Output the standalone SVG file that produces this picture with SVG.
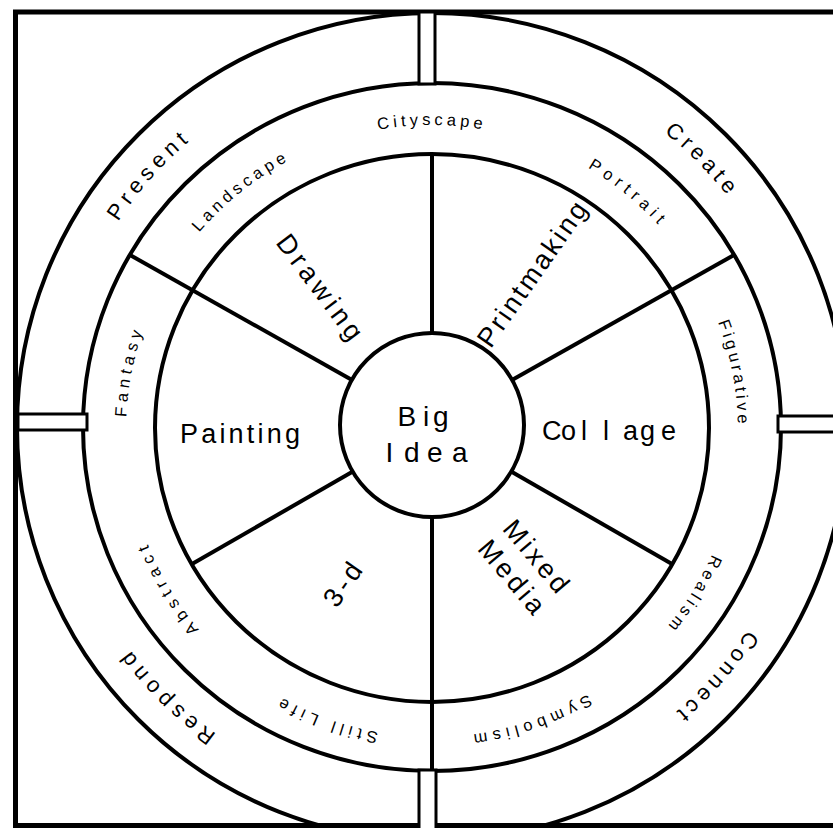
<svg xmlns="http://www.w3.org/2000/svg" xmlns:xlink="http://www.w3.org/1999/xlink" width="833" height="828" viewBox="0 0 833 828">
<style>
.ring{fill:none;stroke:#000;stroke-width:4}
.spoke{stroke:#000;stroke-width:4;stroke-linecap:butt}
.tab{fill:#fff;stroke:#000;stroke-width:3}
text{font-family:"Liberation Sans",Arial,sans-serif;fill:#000}
.mid{font-size:16.5px}
.out{font-size:22px}
.big{font-size:27px}
</style>
<defs>
<path id="midPath" d="M 432,737 A 306 306 0 1 1 432,125 A 306 306 0 1 1 432,737"/>
<path id="outPath" d="M 432,802 A 375 375 0 1 1 432,52 A 375 375 0 1 1 432,802"/>
</defs>
<rect width="833" height="828" fill="#fff"/>
<g id="frame">
<rect x="15.5" y="12" width="830" height="813.5" fill="none" stroke="#000" stroke-width="5"/>
</g>
<g id="rings">
<ellipse class="ring" cx="432" cy="427" rx="415" ry="414"/>
<ellipse class="ring" cx="432" cy="427" rx="349" ry="344"/>
<ellipse class="ring" cx="432" cy="428" rx="277" ry="274"/>
</g>
<g id="connectors">
<line class="spoke" x1="432" y1="333" x2="432" y2="154"/>
<line class="spoke" x1="432" y1="517" x2="432" y2="771"/>
<line class="spoke" x1="352" y1="380" x2="130" y2="255"/>
<line class="spoke" x1="512" y1="380" x2="734" y2="255"/>
<line class="spoke" x1="352" y1="472" x2="192" y2="564"/>
<line class="spoke" x1="512" y1="472" x2="672" y2="564"/>
</g>
<g id="tabs">
<rect class="tab" x="419" y="12" width="16" height="72"/>
<rect class="tab" x="419" y="770" width="17" height="60"/>
<rect class="tab" x="18" y="414" width="69" height="16"/>
<rect class="tab" x="778" y="416" width="60" height="16"/>
</g>
<g id="big-idea">
<circle cx="432" cy="425" r="92" fill="#fff" stroke="#000" stroke-width="4"/>
<text font-size="28" x="397.5 423 433" y="426">Big</text>
<text font-size="28" x="385.5 404 427 452" y="462">Idea</text>
</g>
<g id="drawing"><text class="big" text-anchor="middle" letter-spacing="4.3" transform="translate(321,289) rotate(53)" y="9">Drawing</text></g>
<g id="printmaking"><text class="big" text-anchor="middle" letter-spacing="2.8" transform="translate(533,273) rotate(-55)" y="9">Printmaking</text></g>
<g id="collage"><text class="big" x="542 561 581 603 623 640 661" y="440">Collage</text></g>
<g id="mixed-media"><g transform="translate(525,568) rotate(50)"><text class="big" text-anchor="middle" letter-spacing="3.5" y="-7">Mixed</text><text class="big" text-anchor="middle" letter-spacing="3.5" y="25">Media</text></g></g>
<g id="three-d"><text class="big" text-anchor="middle" letter-spacing="4" transform="translate(344,583) rotate(-55)" y="9">3-d</text></g>
<g id="painting"><text class="big" text-anchor="middle" letter-spacing="3.2" x="241.6" y="443">Painting</text></g>
<g id="middle-labels">
<text class="mid" text-anchor="middle" letter-spacing="5"><textPath xlink:href="#midPath" startOffset="5.6%">Still Life</textPath></text>
<text class="mid" text-anchor="middle" letter-spacing="5.6"><textPath xlink:href="#midPath" startOffset="16.5%">Abstract</textPath></text>
<text class="mid" text-anchor="middle" letter-spacing="4.7"><textPath xlink:href="#midPath" startOffset="28.1%">Fantasy</textPath></text>
<text class="mid" text-anchor="middle" letter-spacing="4.1"><textPath xlink:href="#midPath" startOffset="39.3%">Landscape</textPath></text>
<text class="mid" text-anchor="middle" letter-spacing="4"><textPath xlink:href="#midPath" startOffset="50%">Cityscape</textPath></text>
<text class="mid" text-anchor="middle" letter-spacing="5.4"><textPath xlink:href="#midPath" startOffset="61%">Portrait</textPath></text>
<text class="mid" text-anchor="middle" letter-spacing="3.5"><textPath xlink:href="#midPath" startOffset="72%">Figurative</textPath></text>
<text class="mid" text-anchor="middle" letter-spacing="4.1"><textPath xlink:href="#midPath" startOffset="83.9%">Realism</textPath></text>
<text class="mid" text-anchor="middle" letter-spacing="5.2"><textPath xlink:href="#midPath" startOffset="94.8%">Symbolism</textPath></text>
</g>
<g id="outer-labels">
<text class="out" text-anchor="middle" letter-spacing="5.3"><textPath xlink:href="#outPath" startOffset="12.4%">Respond</textPath></text>
<text class="out" text-anchor="middle" letter-spacing="5.2"><textPath xlink:href="#outPath" startOffset="36.6%">Present</textPath></text>
<text class="out" text-anchor="middle" letter-spacing="4.6"><textPath xlink:href="#outPath" startOffset="62.6%">Create</textPath></text>
<text class="out" text-anchor="middle" letter-spacing="4.5"><textPath xlink:href="#outPath" startOffset="86.5%">Connect</textPath></text>
</g>
</svg>
